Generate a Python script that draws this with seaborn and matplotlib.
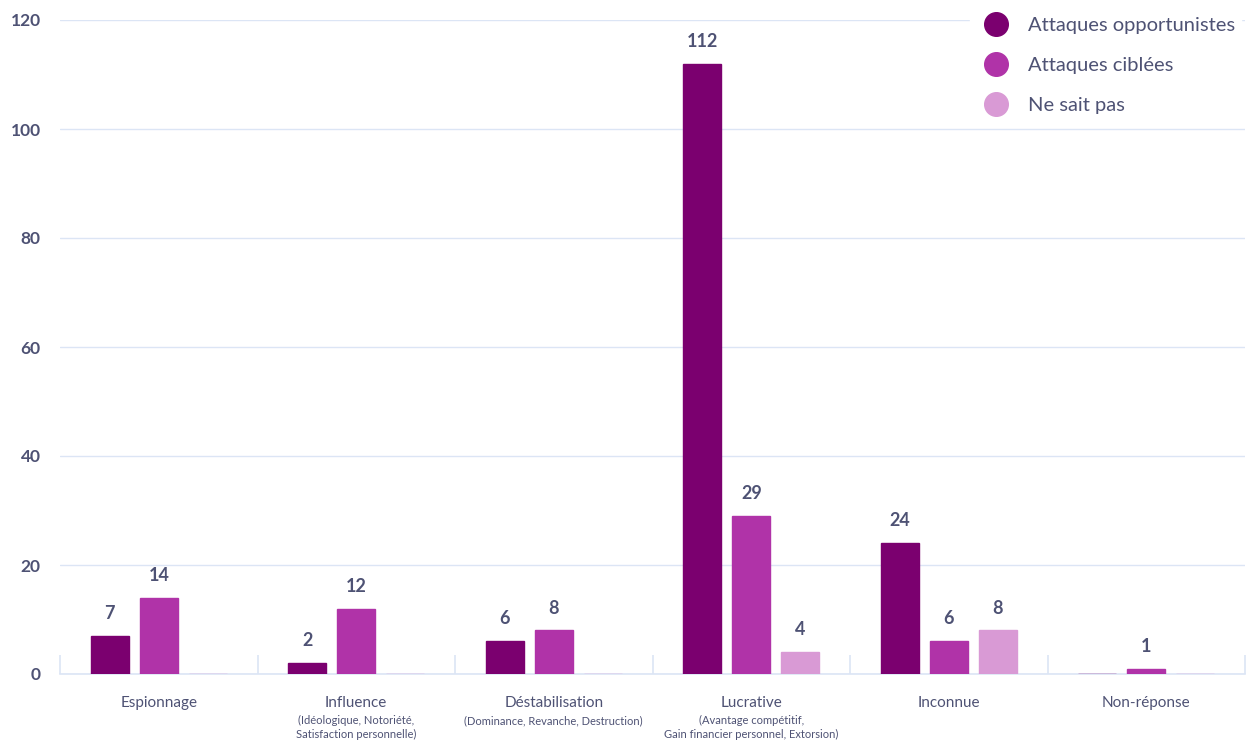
import matplotlib
matplotlib.use("Agg")
import matplotlib.pyplot as plt
import seaborn as sns
import pandas as pd
from matplotlib.lines import Line2D

categories = ["Espionnage", "Influence", "Déstabilisation", "Lucrative", "Inconnue", "Non-réponse"]
subtitles = ["", "(Idéologique, Notoriété,\nSatisfaction personnelle)",
             "(Dominance, Revanche, Destruction)",
             "(Avantage compétitif,\nGain financier personnel, Extorsion)", "", ""]
series = ["Attaques opportunistes", "Attaques ciblées", "Ne sait pas"]
opportunistes = [7, 2, 6, 112, 24, 0]
ciblees = [14, 12, 8, 29, 6, 1]
ne_sait_pas = [0, 0, 0, 4, 8, 0]
yticks = [0, 20, 40, 60, 80, 100, 120]

colors = ["#7B006F", "#B033A8", "#D99AD5"]
text_color = "#4E5274"
grid_color = "#DCE5F5"

rows = []
for s, vals in zip(series, [opportunistes, ciblees, ne_sait_pas]):
    for c, v in zip(categories, vals):
        rows.append({"cat": c, "val": v, "serie": s})
df = pd.DataFrame(rows)

sns.set_theme(style="white")
plt.rcParams["font.family"] = ["Lato", "DejaVu Sans"]

fig = plt.figure(figsize=(12.53, 7.44), dpi=100)
ax = fig.add_axes([60 / 1253, 70 / 744, 1185 / 1253, 654 / 744])

sns.barplot(data=df, x="cat", y="val", hue="serie", order=categories, hue_order=series,
            palette=colors, width=0.746, gap=0.225, ax=ax, legend=False,
            linewidth=1, saturation=1)
# thin edge in the bar colour so zero values stay visible as a hairline
for patch_container, col in zip(ax.containers, colors):
    for p in patch_container:
        p.set_edgecolor(col)
        p.set_zorder(3)

ax.set_ylim(0, 120)
ax.set_xlim(-0.5, len(categories) - 0.5)
ax.set_yticks(yticks)
ax.set_yticklabels([str(t) for t in yticks], fontsize=12.5, fontweight="bold", color=text_color)
ax.yaxis.grid(True, color=grid_color, linewidth=1)
ax.set_axisbelow(True)
for side in ["top", "right", "left"]:
    ax.spines[side].set_visible(False)
ax.spines["bottom"].set_color(grid_color)
ax.spines["bottom"].set_linewidth(1.2)
ax.spines["bottom"].set_zorder(2)
ax.tick_params(axis="y", length=0, pad=14)
ax.set_xlabel("")
ax.set_ylabel("")

# category labels and their sub-descriptions
ax.set_xticks(range(len(categories)))
ax.set_xticklabels(categories, fontsize=11, color=text_color)
ax.tick_params(axis="x", which="major", bottom=False, length=0, pad=16)
for i, sub in enumerate(subtitles):
    if sub:
        ax.annotate(sub, xy=(i, 0), xycoords=("data", "axes fraction"),
                    xytext=(0, -29.5), textcoords="offset points",
                    ha="center", va="top", fontsize=8, color=text_color, linespacing=1.35)

# boundary ticks between categories
ax.set_xticks([i - 0.5 for i in range(len(categories) + 1)], minor=True)
ax.tick_params(axis="x", which="minor", bottom=True, direction="in", length=14,
               width=1.2, color=grid_color)

# value labels above the non-zero bars
for cont in ax.containers:
    for p in cont:
        h = p.get_height()
        if h > 0:
            ax.annotate(f"{int(round(h))}", xy=(p.get_x() + p.get_width() / 2, h),
                        xytext=(0, 10), textcoords="offset points",
                        ha="center", va="bottom", fontsize=13, fontweight="bold",
                        color=text_color, zorder=4)

handles = [Line2D([0], [0], marker="o", linestyle="", markersize=17,
                  markerfacecolor=c, markeredgecolor=c) for c in colors]
leg = ax.legend(handles, series, loc="upper right", bbox_to_anchor=(1.005, 1.03),
                frameon=True, framealpha=1, facecolor="white", edgecolor="white",
                fontsize=14.5, handletextpad=0.55, labelspacing=1.15, borderpad=0.3)
leg.set_zorder(5)
for t in leg.get_texts():
    t.set_color(text_color)

fig.savefig("out.png", dpi=100, facecolor="white")
